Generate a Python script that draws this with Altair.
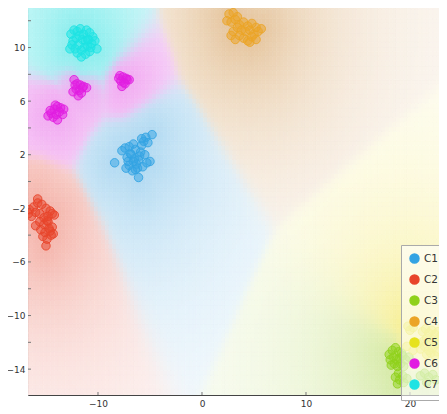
import numpy as np
import pandas as pd
import altair as alt

classes = ["C1", "C2", "C3", "C4", "C5", "C6", "C7"]
colors = ["#33a3e3", "#e8442a", "#8fd11b", "#eba426", "#e6e21e", "#e11de1", "#1ee3e3"]
bg_colors = ["#4aa8e0", "#e8604c", "#a0cf3a", "#cf9248", "#f2e448", "#e34ae3", "#2ee0e0"]
bg_peak = [0.38, 0.42, 0.40, 0.48, 0.55, 0.42, 0.50]
bg_bias = [0.0, 0.0, -1.0, -1.2, -1.6, 0.0, -1.0]

c1_x = [-8.4,-7.7,-7.4,-7.2,-7.0,-6.8,-6.6,-6.4,-6.2,-6.0,-5.8,-5.6,-5.4,-5.2,-5.0,-4.8,-7.3,-7.0,-6.7,-6.5,-6.3,-6.1,-5.9,-5.7,-5.5,-7.1,-6.6,-6.1,-5.3,-6.9,-6.4,-5.8]
c1_y = [1.4,2.3,2.5,1.8,1.2,2.0,1.5,2.4,1.0,1.9,2.7,3.0,3.3,2.9,1.5,3.5,1.0,2.6,0.8,1.7,1.3,0.3,2.2,1.1,2.0,1.5,2.8,1.6,1.4,2.1,0.9,3.2]
c2_x = [-16.6,-16.2,-15.8,-15.4,-15.0,-14.6,-14.2,-16.4,-16.0,-15.6,-15.2,-14.8,-14.4,-16.0,-15.6,-15.2,-14.8,-14.4,-15.5,-15.1,-14.7,-14.3,-15.3,-14.9,-14.5,-15.0,-14.6,-14.9,-15.8,-16.7]
c2_y = [-2.1,-1.9,-1.3,-1.7,-2.0,-2.2,-2.5,-2.6,-2.3,-2.4,-2.7,-2.6,-2.4,-3.3,-3.0,-3.2,-3.0,-3.4,-3.6,-3.8,-3.5,-3.9,-4.1,-4.3,-4.0,-4.8,-3.7,-2.9,-1.6,-2.4]
c3_x = [18.0,18.3,18.6,18.9,19.2,18.1,18.4,18.7,19.0,19.3,19.6,19.9,18.2,18.5,18.8,19.1,19.4,18.6,19.0,18.8,19.3,19.7,18.9,19.4,21.0,21.4,21.8,22.2,22.5,21.6]
c3_y = [-12.9,-12.6,-12.4,-12.7,-12.8,-13.3,-13.1,-13.3,-13.2,-13.0,-13.3,-13.1,-13.7,-13.6,-13.8,-13.6,-13.8,-14.6,-14.8,-15.1,-14.5,-14.7,-14.3,-15.0,-14.5,-14.3,-14.6,-14.4,-14.8,-15.0]
c4_x = [2.6,3.0,3.4,2.4,2.8,3.2,3.6,4.0,4.4,4.8,5.2,4.2,4.6,5.0,5.4,5.7,2.8,3.2,3.6,4.0,4.4,4.8,5.2,3.0,3.8,4.6,3.4]
c4_y = [12.5,12.6,12.3,12.0,11.9,12.1,11.7,11.9,11.6,11.8,11.5,11.2,11.3,11.0,11.2,11.4,10.9,10.6,10.9,10.7,10.5,10.8,10.6,11.2,11.3,10.4,11.5]
c5_x = [19.8,20.0,20.3,19.7,20.3,20.8,21.2,21.5,21.8,22.1,22.4,22.7,23.0,21.3,21.6,21.9,22.2,22.5,22.8,21.0,21.4,21.8,22.2,22.6,21.6,22.0,22.4]
c5_y = [-10.8,-11.1,-10.9,-12.3,-12.6,-12.1,-11.2,-11.0,-11.3,-11.1,-11.4,-11.2,-11.5,-11.9,-11.7,-12.0,-11.8,-12.1,-11.9,-12.5,-12.3,-12.6,-12.4,-12.7,-12.9,-12.8,-13.0]
c6_x = [-14.8,-14.5,-14.2,-13.9,-13.6,-13.3,-14.3,-14.0,-13.7,-14.6,-13.4,-13.9,-14.1,
        -12.3,-12.0,-11.7,-11.4,-11.1,-12.1,-11.8,-11.5,-12.4,-11.9,-11.6,-12.2,
        -7.9,-7.6,-7.3,-7.0,-7.8,-7.5,-7.2,-7.7,-7.4,-8.0]
c6_y = [4.9,5.1,5.4,5.6,5.5,5.4,4.8,5.0,5.2,5.3,5.0,4.6,5.7,
        7.6,7.3,7.2,7.1,7.0,6.9,6.8,7.0,6.7,6.4,6.6,7.2,
        7.9,7.8,7.7,7.6,7.5,7.4,7.6,7.1,7.3,7.7]
c7_x = [-12.6,-12.3,-12.0,-11.7,-11.4,-11.1,-10.8,-10.5,-12.4,-12.1,-11.8,-11.5,-11.2,-10.9,-10.6,-10.3,-12.7,-12.2,-11.9,-11.3,-11.0,-10.7,-12.0,-11.6,-11.2,-10.8,-10.1,-11.6,-12.5,-11.0]
c7_y = [11.0,11.3,11.2,11.4,11.0,11.3,11.1,10.8,10.5,10.7,10.9,10.6,10.5,10.6,10.3,10.5,9.9,9.9,10.2,10.0,10.1,10.0,9.6,9.8,9.5,9.7,9.9,9.3,10.2,10.6]

x_ticks = [-10, 0, 10, 20]
y_ticks = [-14, -12, -10, -8, -6, -4, -2, 0, 2, 4, 6, 8, 10, 12]

xs_all = [c1_x, c2_x, c3_x, c4_x, c5_x, c6_x, c7_x]
ys_all = [c1_y, c2_y, c3_y, c4_y, c5_y, c6_y, c7_y]

rows = []
for cls, xs, ys in zip(classes, xs_all, ys_all):
    for a, b in zip(xs, ys):
        rows.append({"x": a, "y": b, "cls": cls})
pts = pd.DataFrame(rows)

XMIN, XMAX = -16.73, 22.79
YMIN, YMAX = -15.93, 12.95

# decision-region background: nearest labelled point per class, soft-blended, fading with distance
step = 0.35
gx = np.arange(-17.0, 23.2, step)
gy = np.arange(-16.2, 13.2, step)
cx, cy = np.meshgrid(gx + step / 2, gy + step / 2)
cx = cx.ravel(); cy = cy.ravel()
dk = []
for xs, ys in zip(xs_all, ys_all):
    xa = np.array(xs); ya = np.array(ys)
    dd = np.sqrt((cx[:, None] - xa[None, :]) ** 2 + (cy[:, None] - ya[None, :]) ** 2)
    dk.append(dd.min(axis=1))
dk = np.stack(dk, axis=1)
score = dk + np.array(bg_bias)[None, :]
w = np.exp(-(score - score.min(axis=1, keepdims=True)) / 0.45)
w = w / w.sum(axis=1, keepdims=True)

def rgb(h):
    return np.array([int(h[1:3], 16), int(h[3:5], 16), int(h[5:7], 16)], dtype=float)

base = np.stack([rgb(c) for c in bg_colors])
a = np.array(bg_peak)[None, :] * np.exp(-dk / 7.5) + 0.05
tinted = 255 + (base[None, :, :] - 255) * a[:, :, None]
final = (w[:, :, None] * tinted).sum(axis=1)
final = np.clip(np.round(final), 0, 255).astype(int)
cols = ["#%02x%02x%02x" % tuple(v) for v in final]

bg = pd.DataFrame({
    "x0": cx - step / 2, "x1": cx + step / 2,
    "y0": cy - step / 2, "y1": cy + step / 2,
    "col": cols,
})

xscale = alt.Scale(domain=[XMIN, XMAX], nice=False, zero=False)
yscale = alt.Scale(domain=[YMIN, YMAX], nice=False, zero=False)

background = alt.Chart(bg).mark_rect(clip=True, strokeWidth=0.6).encode(
    x=alt.X("x0:Q", scale=xscale, title=None,
            axis=alt.Axis(values=x_ticks, grid=False, ticks=False, labelPadding=4, labelOverlap=False,
                          domainColor="#444444", labelColor="#333333")),
    x2="x1:Q",
    y=alt.Y("y0:Q", scale=yscale, title=None,
            axis=alt.Axis(values=y_ticks, grid=False, ticks=False, labelPadding=3, labelOverlap=False,
                          domainColor="#444444", labelColor="#333333")),
    y2="y1:Q",
    color=alt.Color("col:N", scale=None),
    stroke=alt.Stroke("col:N", scale=None),
)

# small inward tick marks, as in the reference
xt = pd.DataFrame({"t": x_ticks})
yt = pd.DataFrame({"t": y_ticks})
xtick_rules = alt.Chart(xt).mark_rule(color="#777777", strokeWidth=1).encode(
    x=alt.X("t:Q", scale=xscale), y=alt.value(387), y2=alt.value(384)
)
ytick_rules = alt.Chart(yt).mark_rule(color="#777777", strokeWidth=1).encode(
    y=alt.Y("t:Q", scale=yscale), x=alt.value(0), x2=alt.value(3)
)

cscale = alt.Scale(domain=classes, range=colors)
points = alt.Chart(pts).mark_point(
    filled=True, shape="circle", size=72, fillOpacity=0.5, strokeOpacity=0.85, strokeWidth=1, clip=True
).encode(
    x=alt.X("x:Q", scale=xscale),
    y=alt.Y("y:Q", scale=yscale),
    fill=alt.Fill("cls:N", scale=cscale, legend=alt.Legend(title=None)),
    stroke=alt.Stroke("cls:N", scale=cscale, legend=alt.Legend(title=None)),
)

chart = alt.layer(background, xtick_rules, ytick_rules, points).properties(
    width=411, height=387,
    autosize=alt.AutoSizeParams(type="none"),
    padding={"left": 20, "top": 0, "right": 0, "bottom": 18},
).configure_view(strokeWidth=0).configure_axis(
    labelFont="DejaVu Sans", labelFontSize=9
).configure_legend(
    orient="none", legendX=373, legendY=237,
    fillColor="rgba(255,255,255,0.6)", strokeColor="#aaaaaa",
    padding=8, rowPadding=6, symbolSize=80, symbolType="circle",
    labelFont="DejaVu Sans", labelFontSize=10.5, labelColor="#333333",
    cornerRadius=0,
)

chart.save("out.html", embed_options={"renderer": "svg", "actions": False})
